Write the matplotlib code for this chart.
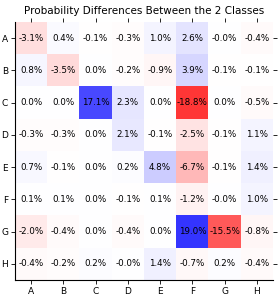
import matplotlib
matplotlib.use('Agg')
import matplotlib.pyplot as plt
import numpy as np

labels = ['A', 'B', 'C', 'D', 'E', 'F', 'G', 'H']
diffs = np.array([
    [-3.1, 0.4, -0.1, -0.3, 1.0, 2.6, -0.0, -0.4],
    [0.8, -3.5, 0.0, -0.2, -0.9, 3.9, -0.1, -0.1],
    [0.0, 0.0, 17.1, 2.3, 0.0, -18.8, 0.0, -0.5],
    [-0.3, -0.3, 0.0, 2.1, -0.1, -2.5, -0.1, 1.1],
    [0.7, -0.1, 0.0, 0.2, 4.8, -6.7, -0.1, 1.4],
    [0.1, 0.1, 0.0, -0.1, 0.1, -1.2, -0.0, 1.0],
    [-2.0, -0.4, 0.0, -0.4, 0.0, 19.0, -15.5, -0.8],
    [-0.4, -0.2, 0.2, -0.0, 1.4, -0.7, 0.2, -0.4],
])

fig = plt.figure(figsize=(2.79, 2.98), dpi=100)
ax = fig.add_axes([15/279, 1 - 280/298, 258/279, 258/298])

ax.imshow(diffs, cmap='bwr_r', vmin=-24, vmax=24, aspect='auto')

for i in range(len(labels)):
    for j in range(len(labels)):
        ax.text(j, i, '{:.1f}%'.format(diffs[i, j]), ha='center', va='center', fontsize=6.3)

ax.set_xticks(range(len(labels)))
ax.set_xticklabels(labels, fontsize=6.5)
ax.set_yticks(range(len(labels)))
ax.set_yticklabels(labels, fontsize=6.5)
ax.tick_params(top=True, right=True, length=3, width=0.6, pad=2)
ax.spines['top'].set_visible(False)
ax.spines['right'].set_visible(False)
ax.set_title('Probability Differences Between the 2 Classes', fontsize=7.5, pad=6)

plt.savefig('out.png', dpi=100)
